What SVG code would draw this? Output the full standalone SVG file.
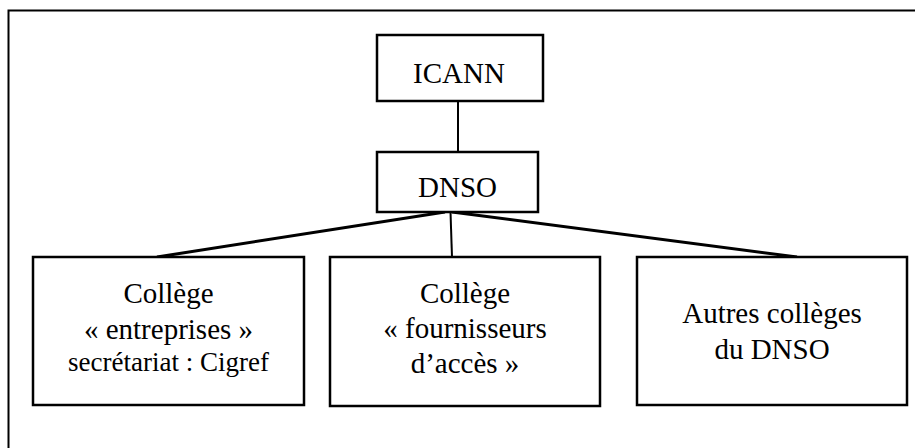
<svg xmlns="http://www.w3.org/2000/svg" width="915" height="448" viewBox="0 0 915 448">
<style>
.box{fill:#fff;stroke:#000;stroke-width:2.5}
.t{font-family:"Liberation Serif","Times New Roman",serif;font-size:29px;text-anchor:middle;fill:#000}
.s{font-size:27px}
.c{stroke:#000;fill:none}
</style>
<rect x="8.5" y="10.5" width="920" height="450" fill="#fff" stroke="#000" stroke-width="2"/>
<g id="connectors">
<line class="c" x1="458" y1="101" x2="458" y2="152" stroke-width="2"/>
<line class="c" x1="445" y1="212" x2="157" y2="257" stroke-width="3"/>
<line class="c" x1="450.5" y1="212" x2="452" y2="257" stroke-width="2"/>
<line class="c" x1="452" y1="212" x2="797" y2="257" stroke-width="3"/>
</g>
<g id="icann">
<rect class="box" x="377" y="35" width="166" height="66"/>
<text class="t" x="459" y="83">ICANN</text>
</g>
<g id="dnso">
<rect class="box" x="377" y="152" width="161" height="60"/>
<text class="t" x="457.5" y="197">DNSO</text>
</g>
<g id="college-entreprises">
<rect class="box" x="33" y="257" width="271" height="148"/>
<text class="t" x="168.5" y="303">Collège</text>
<text class="t" x="168.5" y="339">« entreprises »</text>
<text class="t s" x="168.5" y="371">secrétariat : Cigref</text>
</g>
<g id="college-fournisseurs">
<rect class="box" x="330" y="257" width="270" height="149"/>
<text class="t" x="465" y="303">Collège</text>
<text class="t" x="465" y="338">« fournisseurs</text>
<text class="t" x="465" y="373">d’accès »</text>
</g>
<g id="autres-colleges">
<rect class="box" x="637" y="257" width="270" height="148"/>
<text class="t" x="772" y="323">Autres collèges</text>
<text class="t" x="772" y="359">du DNSO</text>
</g>
</svg>
